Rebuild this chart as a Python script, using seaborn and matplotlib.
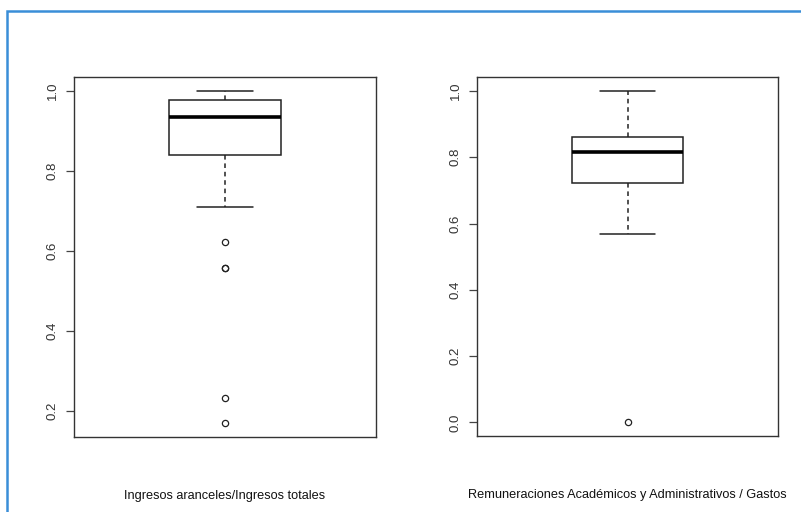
import matplotlib
matplotlib.use("Agg")
import matplotlib.pyplot as plt
import matplotlib.patches as patches
import seaborn as sns
import pandas as pd

# valores (muestras que reproducen cuartiles, bigotes y atipicos)
ingresos_aranceles = [0.17, 0.232, 0.558, 0.558, 0.622, 0.71, 0.84, 0.86, 0.88,
                      0.90, 0.91, 0.92, 0.934, 0.94, 0.95, 0.955, 0.96, 0.97,
                      0.977, 0.98, 0.985, 0.99, 0.995, 1.0, 1.0]
remuneraciones = [0.0, 0.568, 0.60, 0.64, 0.68, 0.70, 0.723, 0.74, 0.76, 0.78,
                  0.79, 0.80, 0.815, 0.82, 0.83, 0.84, 0.845, 0.85, 0.86, 0.88,
                  0.90, 0.93, 0.96, 0.98, 1.0]
etiquetas = ["Ingresos aranceles/Ingresos totales",
             "Remuneraciones Académicos y Administrativos / Gastos"]
ticks_izq = [0.2, 0.4, 0.6, 0.8, 1.0]
ticks_der = [0.0, 0.2, 0.4, 0.6, 0.8, 1.0]

sns.set_style("white")
plt.rcParams['font.family'] = ['Liberation Sans', 'DejaVu Sans']

fig = plt.figure(figsize=(8.01, 5.12), dpi=100)

# marco azul
fig.patches.append(patches.Rectangle((7 / 801, -0.1), 1.2, (1 - 11 / 512) + 0.1,
                                     transform=fig.transFigure, fill=False,
                                     edgecolor="#3a8ed8", linewidth=1.8))

ax1 = fig.add_axes([74 / 801, 75 / 512, 302 / 801, 360 / 512])
ax2 = fig.add_axes([477 / 801, 76 / 512, 301 / 801, 359 / 512])

paneles = [(ax1, ingresos_aranceles, etiquetas[0], ticks_izq, (0.135, 1.035)),
           (ax2, remuneraciones, etiquetas[1], ticks_der, (-0.041, 1.042))]

for ax, valores, etiqueta, ticks, lim in paneles:
    df = pd.DataFrame({"v": valores})
    sns.boxplot(data=df, y="v", ax=ax, width=0.371, color="white",
                linecolor="#222222", linewidth=1.1,
                whiskerprops=dict(linestyle=(0, (3, 2.5))),
                medianprops=dict(linewidth=2.6, color="black"),
                flierprops=dict(marker="o", markersize=4.5, markerfacecolor="none",
                                markeredgecolor="#222222", markeredgewidth=0.9))
    ax.set_xlim(-0.5, 0.5)
    ax.set_ylim(*lim)
    ax.set_yticks(ticks)
    ax.set_yticklabels([f"{t:.1f}" for t in ticks], rotation=90, va="center",
                       fontsize=9.5, color="#333333")
    ax.tick_params(axis="y", left=True, length=6, width=0.9, pad=5, color="#444444")
    ax.set_xticks([])
    ax.set_ylabel("")
    ax.set_xlabel(etiqueta, fontsize=9.2, labelpad=38, color="#111111")
    for s in ax.spines.values():
        s.set_visible(True)
        s.set_color("#333333")
        s.set_linewidth(1.0)

fig.savefig("out.png", dpi=100)
